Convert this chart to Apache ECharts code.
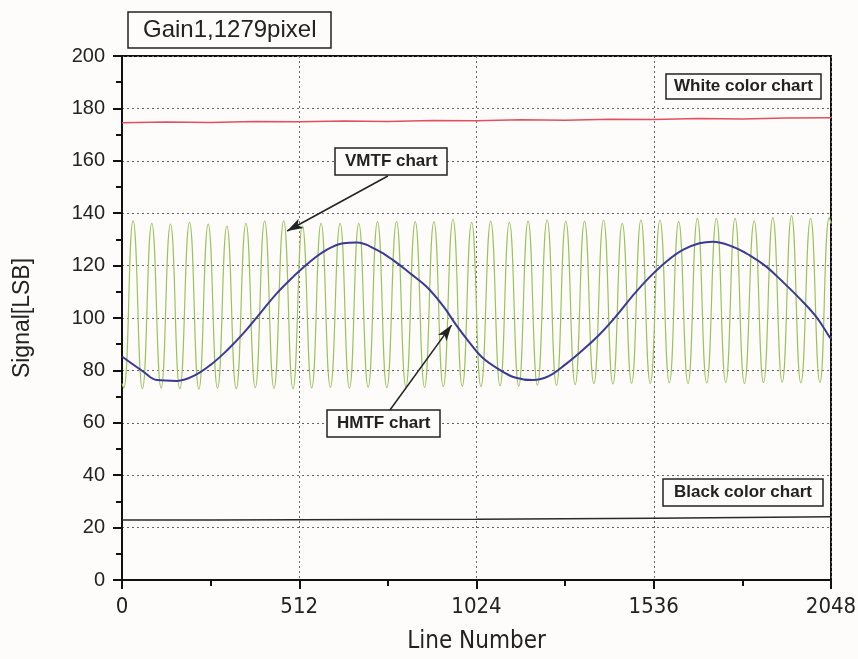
<!DOCTYPE html>
<html><head><meta charset="utf-8">
<script src="https://cdn.jsdelivr.net/npm/echarts@6/dist/echarts.min.js"></script>
<style>html,body{margin:0;padding:0;background:#fdfcfa}#c{width:858px;height:659px}</style>
</head><body><div id="c"></div><script>
// ---- data ----
const xTickLabels = [0, 512, 1024, 1536, 2048];
const yTickLabels = [0, 20, 40, 60, 80, 100, 120, 140, 160, 180, 200];

// VMTF chart (green): positions of troughs and peaks with their signal
const vmtfTroughLine = [5,59,113,167,222,276,330,385,439,494,548,602,657,711,765,820,874,928,983,1037,1092,1146,1200,1255,1309,1363,1418,1472,1526,1581,1635,1689,1744,1798,1853,1907,1961,2016];
const vmtfTroughSignal = [73.2,73.0,73.3,73.0,72.8,73.2,73.0,73.4,73.1,73.0,73.3,73.5,73.2,73.6,73.4,73.8,73.5,73.9,74.0,73.8,74.2,74.0,74.4,74.3,74.6,75.0,74.8,75.1,75.0,75.3,75.0,75.2,75.4,75.0,75.3,75.5,75.2,75.4];
const vmtfPeakLine = [32,86,140,195,249,303,358,412,467,521,575,630,684,738,793,847,901,956,1010,1065,1119,1173,1228,1282,1336,1391,1445,1499,1554,1608,1662,1717,1771,1826,1880,1934,1989,2043];
const vmtfPeakSignal = [137.1,136.1,135.8,136.5,135.8,135.1,136.1,137.1,137.1,135.2,136.1,136.1,136.1,136.8,136.8,136.8,136.8,137.7,136.5,137.0,136.5,137.0,137.5,137.0,137.0,137.4,136.1,137.4,137.4,136.8,138.0,138.0,138.0,137.1,138.3,139.1,138.0,138.4];
const vmtfEnds = [[0, 75.0], [2048, 136.0]];

// HMTF chart (blue)
const hmtfLine = [0,62,101,159,207,255,303,351,399,447,495,543,591,639,678,736,783,832,880,928,966,1000,1040,1090,1135,1187,1234,1283,1331,1380,1428,1476,1524,1572,1620,1668,1707,1764,1812,1861,1908,1957,2005,2043,2048];
const hmtfSignal = [85.3,79.5,76.3,76.0,77.9,82.0,87.6,94.2,101.8,109.4,115.8,121.5,126.0,128.5,128.8,126.0,122.1,117.1,111.9,104.5,97.2,91.3,85.0,80.3,77.3,76.3,77.9,82.5,87.8,93.8,100.8,108.6,115.6,121.5,126.0,128.5,129.1,127.2,124.0,119.6,113.9,107.5,100.5,92.9,92.0];

// White color chart (red)
const whiteLine = [0,128,256,384,512,640,768,896,1024,1152,1280,1408,1536,1664,1792,1920,2048];
const whiteSignal = [174.5,174.8,174.6,175.0,174.9,175.2,175.0,175.4,175.3,175.7,175.5,175.9,175.8,176.1,176.0,176.3,176.4];

// Black color chart (black)
const blackLine = [0,256,512,768,1024,1280,1536,1792,2048];
const blackSignal = [22.9,22.9,23.0,23.1,23.2,23.4,23.6,23.9,24.1];

// ---- build series tables ----
function zip(xs, ys) { return xs.map((x, i) => [x, ys[i]]); }
const vmtfData = [vmtfEnds[0]];
for (let i = 0; i < vmtfPeakLine.length; i++) {
  vmtfData.push([vmtfTroughLine[i], vmtfTroughSignal[i]]);
  vmtfData.push([vmtfPeakLine[i], vmtfPeakSignal[i]]);
}
vmtfData.push(vmtfEnds[1]);

const narrow = "'Liberation Sans Narrow','DejaVu Sans Condensed',sans-serif";
const sans = "'Liberation Sans',Arial,sans-serif";
const boxText = (t, left, top, pad, size, weight) => ({
  text: t, left: left, top: top, padding: pad,
  borderColor: '#222', borderWidth: 1.5, backgroundColor: '#fdfcfa',
  textStyle: { fontFamily: sans, fontSize: size, fontWeight: weight, color: '#222', lineHeight: size + 2 }
});

const chart = echarts.init(document.getElementById('c'), null, { renderer: 'canvas' });
chart.setOption({
  animation: false,
  backgroundColor: '#fdfcfa',
  title: [
    boxText('Gain1,1279pixel', 128, 12, [5, 15], 24, 'normal'),
    boxText('White color chart', 666, 74, [3, 8], 17, 'bold'),
    boxText('VMTF chart', 335, 148, [4, 10], 17, 'bold'),
    boxText('HMTF chart', 327, 410, [4, 10], 17, 'bold'),
    boxText('Black color chart', 663, 479, [4, 11], 17, 'bold')
  ],
  grid: { left: 122, right: 27, top: 56, bottom: 79, show: true, borderColor: '#111', borderWidth: 2, containLabel: false, outerBoundsMode: 'none' },
  xAxis: {
    type: 'value', min: xTickLabels[0], max: xTickLabels[xTickLabels.length - 1], interval: 512,
    name: 'Line Number', nameLocation: 'middle', nameGap: 50,
    nameTextStyle: { fontFamily: narrow, fontSize: 24, color: '#222' },
    axisLine: { show: true, onZero: false, lineStyle: { color: '#111', width: 2 } },
    axisTick: { show: true, length: 9, lineStyle: { color: '#111', width: 2 } },
    minorTick: { show: true, splitNumber: 2, length: 6, lineStyle: { color: '#111', width: 2 } },
    axisLabel: { fontFamily: narrow, fontSize: 22, color: '#222', margin: 16, formatter: v => String(v) },
    splitLine: { show: true, lineStyle: { color: '#666', type: [2, 3], width: 1 } }
  },
  yAxis: {
    type: 'value', min: yTickLabels[0], max: yTickLabels[yTickLabels.length - 1], interval: 20,
    name: 'Signal[LSB]', nameLocation: 'middle', nameGap: 88,
    nameTextStyle: { fontFamily: sans, fontSize: 23, color: '#222' },
    axisLine: { show: true, onZero: false, lineStyle: { color: '#111', width: 2 } },
    axisTick: { show: true, length: 9, lineStyle: { color: '#111', width: 2 } },
    minorTick: { show: true, splitNumber: 2, length: 6, lineStyle: { color: '#111', width: 2 } },
    axisLabel: { fontFamily: sans, fontSize: 20, color: '#222', margin: 17, formatter: v => String(v) },
    splitLine: { show: true, lineStyle: { color: '#666', type: [2, 3], width: 1 } }
  },
  series: [
    { name: 'VMTF chart', type: 'line', data: vmtfData, smooth: 0.5, showSymbol: false,
      lineStyle: { color: '#9cc35a', width: 1.2 }, z: 2 },
    { name: 'HMTF chart', type: 'line', data: zip(hmtfLine, hmtfSignal), smooth: 0.4, showSymbol: false,
      lineStyle: { color: '#3a3a96', width: 2 }, z: 3,
      markLine: { silent: true, symbol: ['none', 'arrow'], symbolSize: [8, 16],
        lineStyle: { color: '#222', width: 1.5, type: 'solid' }, label: { show: false },
        data: [
          [{ coord: [768, 154.2] }, { coord: [477, 133.2] }],
          [{ coord: [774, 64.9] }, { coord: [952, 97.3] }]
        ] } },
    { name: 'White color chart', type: 'line', data: zip(whiteLine, whiteSignal), showSymbol: false,
      lineStyle: { color: '#e0505e', width: 1.5 }, z: 3 },
    { name: 'Black color chart', type: 'line', data: zip(blackLine, blackSignal), showSymbol: false,
      lineStyle: { color: '#2a2a2a', width: 1.5 }, z: 3 }
  ]
});
</script></body></html>
